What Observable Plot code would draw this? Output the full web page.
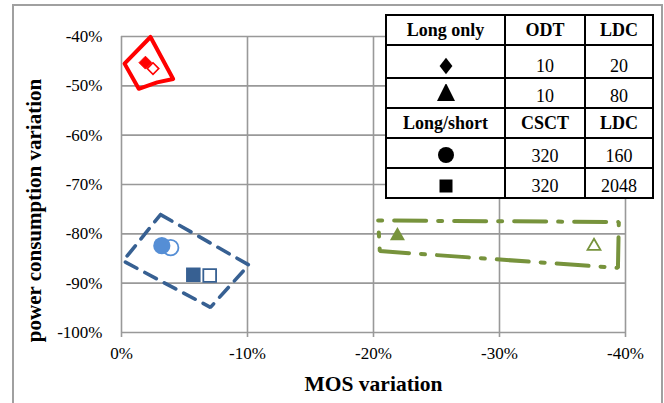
<!DOCTYPE html>
<html>
<head>
<meta charset="utf-8">
<script src="https://cdn.jsdelivr.net/npm/d3@7"></script>
<script src="https://cdn.jsdelivr.net/npm/@observablehq/plot@0.6"></script>
<style>
  body { margin: 0; background: #fff; }
  #chart { position: relative; width: 664px; height: 403px; overflow: hidden;
           font-family: "Liberation Serif", "Times New Roman", serif; }
  #chart svg { position: absolute; left: 0; top: 0; }
  #outer { position: absolute; left: 12px; top: 4px; width: 651px; height: 430px;
           border: 2px solid #a0a0a0; box-sizing: border-box; }
  #key { position: absolute; left: 385px; top: 14px; border-collapse: collapse;
         table-layout: fixed; width: 267px; background: #fff; }
  #key td { border: 2px solid #000; padding: 0; text-align: center; color: #000; }
  #key td.head { font-weight: bold; font-size: 18px; vertical-align: middle; line-height: 18px; }
  #key td.num { font-size: 18px; vertical-align: bottom; line-height: 18px; padding-bottom: 2px; }
  #key td.sym { vertical-align: middle; }
  #key td.sym svg { display: block; margin: 0 auto; position: relative; }
</style>
</head>
<body>
<div id="chart"><div id="outer"></div></div>
<script>
// Axis ticks (percent)
const xTicks = [0, -10, -20, -30, -40];
const yTicks = [-100, -90, -80, -70, -60, -50, -40];

// Long only, ODT 10 / LDC 20 (diamonds): filled and hollow marker
const diamondMos = [-1.9, -2.5];
const diamondPower = [-45.3, -46.5];

// Long only, ODT 10 / LDC 80 (triangles)
const triangleMos = [-21.9, -37.5];
const trianglePower = [-80.4, -82.5];

// Long/short, CSCT 320 / LDC 160 (circles)
const circleMos = [-3.2, -3.9];
const circlePower = [-82.4, -82.8];

// Long/short, CSCT 320 / LDC 2048 (squares)
const squareMos = [-5.7, -7.0];
const squarePower = [-88.3, -88.45];

// Hand-drawn group outlines (vertices in data units)
const redOutlineMos = [-2.3, -4.1, -2.83, -1.37, -0.24];
const redOutlinePower = [-40.1, -48.6, -49.3, -50.6, -45.5];
const blueOutlineMos = [-3.1, -10.1, -7.06, -0.13];
const blueOutlinePower = [-76.1, -86.3, -94.9, -85.5];
const greenOutlineMos = [-20.37, -39.47, -39.4, -20.5];
const greenOutlinePower = [-77.3, -77.6, -86.9, -83.5];

// Key table contents
const keyHeadLong = ["Long only", "ODT", "LDC"];
const keyHeadShort = ["Long/short", "CSCT", "LDC"];
const keySymbols = ["diamond", "triangle", "circle", "square"];
const keyFirst = [10, 10, 320, 320];
const keySecond = [20, 80, 160, 2048];

const RED = "#ff0000", LIGHTBLUE = "#558ed5", DARKBLUE = "#376092", GREEN = "#77933c", GRID = "#999999";

const pts = (xs, ys) => xs.map((x, i) => ({x, y: ys[i]}));
const ring = (xs, ys) => { const p = pts(xs, ys); return p.concat([p[0]]); };

const plot = Plot.plot({
  width: 664,
  height: 403,
  marginLeft: 121,
  marginRight: 39,
  marginTop: 36,
  marginBottom: 71,
  style: {fontFamily: '"Liberation Serif", "Times New Roman", serif', fontSize: "17px", color: "#000", background: "transparent"},
  x: {domain: [0, -40]},
  y: {domain: [-100, -40]},
  marks: [
    Plot.gridX(xTicks, {stroke: GRID, strokeOpacity: 1, strokeWidth: 1.6}),
    Plot.gridY(yTicks, {stroke: GRID, strokeOpacity: 1, strokeWidth: 1.6}),
    Plot.axisX(xTicks, {tickSize: 5, tickPadding: 9, stroke: GRID, strokeWidth: 1.6, fontSize: 17,
                        tickFormat: d => `${d}%`, label: null}),
    Plot.axisY(yTicks, {tickSize: 0, tickPadding: 19, fontSize: 17, tickFormat: d => `${d}%`, label: null}),

    // group outlines
    Plot.line(ring(redOutlineMos, redOutlinePower), {x: "x", y: "y", stroke: RED, strokeWidth: 4, strokeLinejoin: "round"}),
    Plot.line(ring(blueOutlineMos, blueOutlinePower), {x: "x", y: "y", stroke: DARKBLUE, strokeWidth: 3.6,
                                                       strokeDasharray: "13 9", strokeLinejoin: "miter"}),
    Plot.line(ring(greenOutlineMos, greenOutlinePower), {x: "x", y: "y", stroke: GREEN, strokeWidth: 4,
                                                         strokeDasharray: "4 12 32 12", strokeLinejoin: "miter"}),

    // markers
    Plot.dot(pts(diamondMos, diamondPower).slice(0, 1), {x: "x", y: "y", symbol: "diamond2", r: 5.8, fill: RED, stroke: RED, strokeWidth: 1}),
    Plot.dot(pts(diamondMos, diamondPower).slice(1), {x: "x", y: "y", symbol: "diamond2", r: 5.2, fill: "#fff", stroke: RED, strokeWidth: 1.6}),
    Plot.dot(pts(circleMos, circlePower).slice(1), {x: "x", y: "y", symbol: "circle", r: 7.8, fill: "#fff", stroke: LIGHTBLUE, strokeWidth: 1.8}),
    Plot.dot(pts(circleMos, circlePower).slice(0, 1), {x: "x", y: "y", symbol: "circle", r: 8.6, fill: LIGHTBLUE}),
    Plot.dot(pts(squareMos, squarePower).slice(0, 1), {x: "x", y: "y", symbol: "square", r: 8.2, fill: DARKBLUE}),
    Plot.dot(pts(squareMos, squarePower).slice(1), {x: "x", y: "y", symbol: "square", r: 7.2, fill: "#fff", stroke: DARKBLUE, strokeWidth: 1.8}),
    Plot.dot(pts(triangleMos, trianglePower).slice(0, 1), {x: "x", y: "y", symbol: "triangle", r: 5.6, fill: GREEN}),
    Plot.dot(pts(triangleMos, trianglePower).slice(1), {x: "x", y: "y", symbol: "triangle", r: 4.8, fill: "#fff", stroke: GREEN, strokeWidth: 1.8}),

    // axis titles
    Plot.text(["MOS variation"], {frameAnchor: "bottom", dy: 52, text: d => d, fontSize: 21.5, fontWeight: "bold",
                                  textAnchor: "middle", lineAnchor: "middle"}),
    Plot.text(["power consumption variation"], {frameAnchor: "left", dx: -87, dy: 26, rotate: -90, text: d => d,
                                               fontSize: 21, fontWeight: "bold", textAnchor: "middle", lineAnchor: "middle"})
  ]
});

const chart = document.getElementById("chart");
chart.insertBefore(plot, chart.firstChild);

// Key table: marker glyphs drawn with d3 symbols
const glyph = {
  diamond: {type: d3.symbolDiamond2, size: 105, sx: 1, sy: 1.3, shift: 4},
  triangle: {type: d3.symbolTriangle, size: 140, sx: 1, sy: 1.15, shift: 2},
  circle: {type: d3.symbolCircle, size: 201, sx: 1, sy: 1, shift: 2},
  square: {type: d3.symbolSquare, size: 169, sx: 1, sy: 1, shift: 3}
};
function glyphSvg(name) {
  const g = glyph[name];
  const path = d3.symbol(g.type, g.size)();
  return `<svg width="22" height="22" viewBox="-11 -11 22 22" style="top:${g.shift}px">` +
         `<path d="${path}" transform="scale(${g.sx},${g.sy})" fill="#000"/></svg>`;
}
const rowHeights = [30, 33, 30, 30, 30, 30];
const table = d3.select("#chart").append("table").attr("id", "key");
const cg = table.append("colgroup");
[119, 80, 68].forEach(w => cg.append("col").style("width", w + "px"));
const addHead = (cells, h) => {
  const tr = table.append("tr").style("height", h + "px");
  cells.forEach(c => tr.append("td").attr("class", "head").text(c));
};
const addRow = (i, h) => {
  const tr = table.append("tr").style("height", h + "px");
  tr.append("td").attr("class", "sym").html(glyphSvg(keySymbols[i]));
  tr.append("td").attr("class", "num").text(keyFirst[i]);
  tr.append("td").attr("class", "num").text(keySecond[i]);
};
addHead(keyHeadLong, rowHeights[0]);
addRow(0, rowHeights[1]);
addRow(1, rowHeights[2]);
addHead(keyHeadShort, rowHeights[3]);
addRow(2, rowHeights[4]);
addRow(3, rowHeights[5]);
</script>
</body>
</html>
